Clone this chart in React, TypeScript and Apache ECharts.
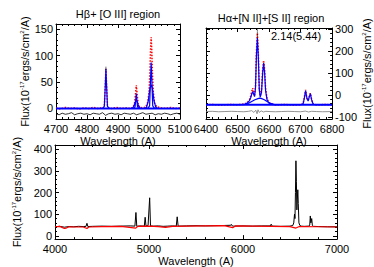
import React, { useEffect, useRef } from "react";
import * as echarts from "echarts";

// ---------- Top-left: Hbeta + [O III] ----------
const hbWave = [4700,4715,4730,4745,4760,4775,4790,4805,4820,4835,4845,4852,4856,4859,4861,4863,4866,4870,4880,4895,4910,4925,4940,4948,4953,4956,4959,4962,4965,4970,4980,4990,4996,5000,5003,5005,5007,5009,5011,5014,5018,5025,5040,5055,5070,5085,5100];
const hbData = [1,-1,2,0,1,-1,1,0,2,0,1,1,5,45,75,48,6,1,0,2,0,1,0,2,8,25,44,26,8,2,1,3,12,30,70,112,135,110,68,30,10,3,1,0,2,0,1];
const hbNarrowW = [4850,4856,4859,4861,4863,4866,4872];
const hbNarrowF = [0,4,42,75,45,4,0];
const o3aNarrowW = [4950,4955,4957,4959,4961,4963,4968];
const o3aNarrowF = [0,3,15,28,15,3,0];
const o3aBroadW = [4944,4948,4952,4956,4959,4962,4966,4970,4974];
const o3aBroadF = [0,1,5,13,15,13,5,1,0];
const o3bNarrowW = [4996,5002,5004,5007,5010,5012,5018];
const o3bNarrowF = [0,5,40,87,40,5,0];
const o3bBroadW = [4986,4992,4998,5003,5007,5011,5016,5022,5028];
const o3bBroadF = [0,2,15,38,45,38,15,2,0];
const hbBaseW = [4700,5100];
const hbBaseF = [0,0];
const hbResW = [4700,4710,4720,4730,4740,4750,4760,4770,4780,4790,4800,4810,4820,4830,4840,4850,4860,4870,4880,4890,4900,4910,4920,4930,4940,4950,4960,4970,4980,4990,5000,5010,5020,5030,5040,5050,5060,5070,5080,5090,5100];
const hbResF = [-10,-12,-9,-11,-10,-8,-12,-10,-9,-11,-10,-12,-9,-10,-11,-8,-13,-10,-9,-11,-10,-12,-9,-10,-11,-9,-12,-10,-8,-11,-10,-9,-12,-10,-11,-9,-10,-12,-10,-9,-11];
const hbMarkW = [4861,4861];
const hbMarkF = [72,80];

// ---------- Top-right: Halpha + [N II] + [S II] ----------
const haWave = [6400,6420,6440,6460,6480,6500,6515,6525,6532,6538,6542,6545,6548,6551,6554,6557,6560,6563,6566,6569,6572,6576,6580,6583,6586,6589,6594,6600,6608,6620,6650,6680,6700,6708,6712,6716,6720,6724,6727,6731,6735,6740,6750,6780,6800];
const haData = [-45,-44,-46,-45,-44,-45,-43,-40,-33,-22,-5,15,31,12,-5,40,200,282,190,30,-5,20,120,157,115,30,-20,-35,-42,-45,-44,-46,-45,-40,-10,23,-15,-25,-10,8,-20,-42,-45,-44,-45];
const haFit = [-45,-45,-45,-45,-45,-45,-44,-42,-36,-26,-12,3,15,5,-8,30,180,259,175,25,-10,10,105,145,100,20,-25,-38,-43,-45,-45,-45,-45,-42,-15,20,-15,-28,-12,6,-22,-43,-45,-45,-45];
const haBroadW = [6515,6525,6535,6545,6555,6565,6570,6575,6585,6595,6605,6615,6625];
const haBroadF = [-45,-43,-38,-30,-22,-17,-15,-16,-22,-31,-39,-43,-45];
const haBaseW = [6400,6800];
const haBaseF = [-45,-45];
const haResW = [6400,6420,6440,6460,6480,6500,6520,6535,6545,6552,6558,6562,6565,6569,6575,6582,6590,6600,6620,6640,6660,6680,6700,6715,6725,6735,6750,6770,6800];
const haResF = [-76,-75,-77,-76,-75,-76,-77,-75,-72,-80,-70,-86,-68,-80,-73,-78,-75,-76,-77,-76,-75,-76,-77,-74,-78,-75,-76,-77,-76];
const haMarkW = [6563,6563];
const haMarkF = [262,305];

// ---------- Bottom: full spectrum ----------
const specWave = [4000,4050,4100,4150,4200,4250,4300,4330,4340,4350,4400,4500,4600,4700,4800,4850,4861,4870,4900,4950,4959,4968,4990,5007,5016,5050,5100,5150,5200,5250,5290,5300,5310,5400,5500,5600,5700,5800,5870,5876,5885,5900,6000,6100,6200,6290,6300,6310,6400,6500,6530,6540,6548,6553,6558,6563,6568,6573,6578,6583,6588,6595,6605,6620,6650,6700,6710,6716,6722,6731,6738,6750,6800,6900,7000];
const specFlux = [42,44,40,43,42,44,43,44,58,43,44,45,44,45,46,45,108,44,46,45,86,46,47,176,46,45,46,44,45,46,45,88,45,46,47,46,47,48,49,53,46,45,46,45,46,46,54,45,44,45,48,60,100,80,200,347,250,120,170,213,150,60,48,45,44,45,50,92,60,80,48,44,43,42,42];
const contWave = [4000,4050,4100,4120,4150,4200,4300,4340,4360,4500,4700,4860,4880,5000,5100,5175,5250,5400,5600,5800,5890,5920,6100,6300,6500,6563,6600,6800,7000];
const contFlux = [42,44,34,36,42,41,41,34,41,43,44,36,44,45,43,39,44,45,46,47,38,46,45,44,43,36,43,42,41];

const FONT = "'Liberation Sans', Arial, Helvetica, sans-serif";
const zip = (w: number[], f: number[]) => w.map((x, i) => [x, f[i]]);

const fluxName = "Flux(10{s|-17}ergs/s/cm{s|2}/A)";
const nameStyle = {
  fontSize: 11,
  color: "#000",
  fontFamily: FONT,
  lineHeight: 12,
  rich: { s: { fontSize: 6, verticalAlign: "top", fontFamily: FONT, color: "#000", lineHeight: 12 } },
};

function axisBase(showLabels: boolean, margin: number) {
  return {
    type: "value",
    axisLine: { show: true, onZero: false, lineStyle: { color: "#000", width: 1 } },
    axisTick: { show: true, inside: true, length: 4, lineStyle: { color: "#000", width: 1 } },
    minorTick: { show: true, splitNumber: 5, length: 2, lineStyle: { color: "#000", width: 1 } },
    splitLine: { show: false },
    axisLabel: {
      show: showLabels,
      color: "#000",
      fontSize: 11,
      fontFamily: FONT,
      margin,
      showMinLabel: false,
      showMaxLabel: false,
      formatter: (v: number) => String(v),
    },
  };
}

function xAx(grid: number, min: number, max: number, interval: number, pos: string, labels: boolean, gap: number) {
  const a: any = { ...axisBase(labels, labels ? 4 : 8), gridIndex: grid, min, max, interval, position: pos };
  a.axisLabel = { ...a.axisLabel, showMinLabel: true, showMaxLabel: true };
  if (labels) {
    a.name = "Wavelength (A)";
    a.nameLocation = "middle";
    a.nameGap = gap;
    a.nameTextStyle = { fontSize: 11, color: "#000", fontFamily: FONT };
  }
  return a;
}

function yAx(grid: number, min: number, max: number, pos: string, labels: boolean, gap: number) {
  const a: any = { ...axisBase(labels, 3), gridIndex: grid, min, max, splitNumber: 4, position: pos };
  if (labels) {
    a.name = fluxName;
    a.nameLocation = "middle";
    a.nameGap = gap;
    a.nameTextStyle = nameStyle;
  }
  return a;
}

function line(xi: number, yi: number, data: number[][], color: string, width: number, type: string = "solid", z = 2) {
  return {
    type: "line",
    xAxisIndex: xi,
    yAxisIndex: yi,
    data,
    showSymbol: false,
    symbol: "none",
    lineStyle: { color, width, type },
    z,
    silent: true,
  };
}

export default function App() {
  const ref = useRef<HTMLDivElement>(null);
  useEffect(() => {
    const chart = echarts.init(ref.current!, null, { renderer: "svg" });
    const option: any = {
      animation: false,
      backgroundColor: "#fff",
      textStyle: { fontFamily: FONT },
      grid: [
        { left: 56, top: 24, width: 124, height: 95 },
        { left: 206, top: 28, width: 131, height: 91 },
        { left: 55, top: 145, width: 282, height: 95 },
      ],
      xAxis: [
        xAx(0, 4700, 5100, 100, "bottom", true, 16),
        xAx(0, 4700, 5100, 100, "top", false, 0),
        xAx(1, 6400, 6800, 100, "bottom", true, 16),
        xAx(1, 6400, 6800, 100, "top", false, 0),
        xAx(2, 4000, 7000, 1000, "bottom", true, 15),
        xAx(2, 4000, 7000, 1000, "top", false, 0),
      ],
      yAxis: [
        yAx(0, -20, 160, "left", true, 25),
        yAx(0, -20, 160, "right", false, 0),
        yAx(1, -110, 305, "right", true, 24),
        yAx(1, -110, 305, "left", false, 0),
        yAx(2, -15, 420, "left", true, 26),
        yAx(2, -15, 420, "right", false, 0),
      ],
      graphic: [
        { type: "text", x: 118, y: 14, style: { text: "H\u03b2+ [O III] region", fill: "#000", font: `11px ${FONT}`, textAlign: "center", textVerticalAlign: "middle" } },
        { type: "text", x: 271, y: 18, style: { text: "H\u03b1+[N II]+[S II] region", fill: "#000", font: `11px ${FONT}`, textAlign: "center", textVerticalAlign: "middle" } },
        { type: "text", x: 271, y: 36, style: { text: "2.14(5.44)", fill: "#000", font: `11px ${FONT}`, textAlign: "left", textVerticalAlign: "middle" } },
      ],
      series: [
        // top-left
        line(0, 0, zip(hbResW, hbResF), "#000", 0.8),
        line(0, 0, zip(hbWave, hbData), "#ff0000", 1.5, "dotted"),
        line(0, 0, zip(hbBaseW, hbBaseF), "#0000ff", 2, "solid", 3),
        line(0, 0, zip(hbNarrowW, hbNarrowF), "#0000ff", 1.2, "solid", 3),
        line(0, 0, zip(o3aNarrowW, o3aNarrowF), "#0000ff", 1.2, "solid", 3),
        line(0, 0, zip(o3aBroadW, o3aBroadF), "#0000ff", 1.2, "solid", 3),
        line(0, 0, zip(o3bNarrowW, o3bNarrowF), "#0000ff", 1.2, "solid", 3),
        line(0, 0, zip(o3bBroadW, o3bBroadF), "#0000ff", 1.2, "solid", 3),
        line(0, 0, zip(hbMarkW, hbMarkF), "#000", 1, "dotted", 4),
        // top-right
        line(2, 2, zip(haResW, haResF), "#777", 0.8),
        line(2, 2, zip(haWave, haData), "#ff0000", 1.5, "dotted"),
        line(2, 2, zip(haBaseW, haBaseF), "#0000ff", 2, "solid", 3),
        line(2, 2, zip(haBroadW, haBroadF), "#0000ff", 1.2, "solid", 3),
        line(2, 2, zip(haWave, haFit), "#0000ff", 1.2, "solid", 3),
        line(2, 2, zip(haMarkW, haMarkF), "#000", 1, "dotted", 4),
        // bottom
        line(4, 4, zip(specWave, specFlux), "#000", 1),
        line(4, 4, zip(contWave, contFlux), "#ff0000", 1.2, "solid", 3),
      ],
    };
    chart.setOption(option);
    return () => chart.dispose();
  }, []);
  return <div ref={ref} style={{ position: "absolute", left: 0, top: 0, width: 374, height: 267 }} />;
}
